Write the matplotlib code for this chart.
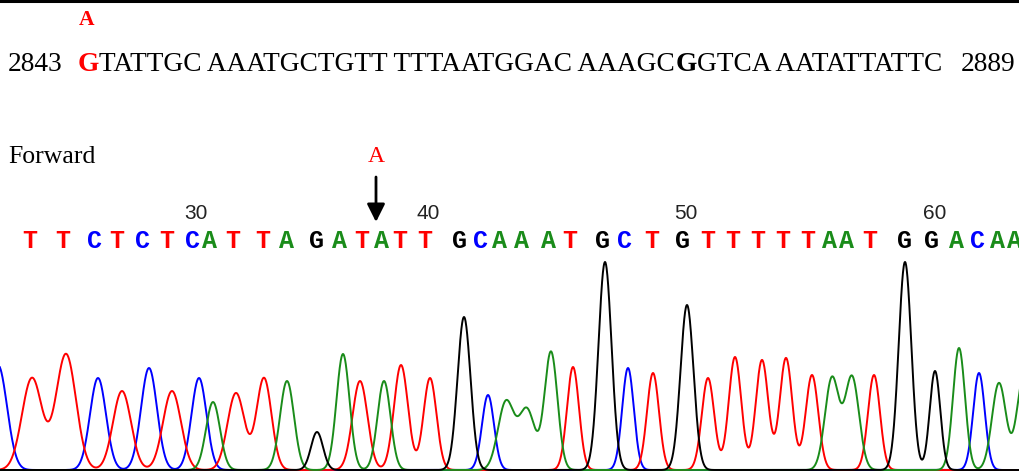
import numpy as np
import matplotlib
matplotlib.use("Agg")
import matplotlib.pyplot as plt

# reference sequence line
seq_start = "2843"
seq_mut = "G"
seq_part1 = "TATTGC AAATGCTGTT TTTAATGGAC AAAGC"
seq_bold = "G"
seq_part2 = "GTCA AATATTATTC"
seq_end = "2889"
mut_base = "A"

# base calls of the forward read (scan position, base)
call_pos = [30, 63, 95, 117, 143, 167, 193, 210, 233, 263, 287, 317, 340, 362,
            382, 400, 425, 460, 481, 500, 522, 549, 570, 603, 625, 652, 683,
            708, 733, 758, 783, 808, 830, 847, 870, 905, 932, 957, 978, 998, 1015]
call_base = "TTCTCTCATTAGATATTGCAAATGCTGTTTTTAATGGACAA"
first_base_no = 24
mut_scan = 376

# peaks of each trace: centre (scan), height, width
T_pos = [32, 66, 122, 172, 236, 264, 360, 401, 430, 573, 653, 708, 735, 762, 786, 812, 874]
T_h = [92, 116, 79, 79, 77, 92, 89, 105, 92, 103, 97, 92, 113, 110, 112, 95, 95]
T_w = [10, 10, 9, 9, 8.5, 7.5, 7.5, 7, 6.5, 6, 6, 6.2, 6.3, 6.3, 6.3, 6.3, 6]

A_pos = [213, 287, 343, 384, 506, 527, 551, 832, 852, 959, 999, 1024]
A_h = [68, 89, 116, 89, 68, 60, 118, 92, 93, 122, 87, 95]
A_w = [7, 7, 6.5, 6.5, 8, 8, 6.5, 7, 7, 6, 7, 7]

C_pos = [-2, 98, 149, 199, 488, 628, 979]
C_h = [105, 92, 102, 92, 75, 102, 97]
C_w = [9, 8, 8, 7.5, 6, 5.8, 5.8]

G_pos = [317, 464, 605, 687, 905, 935]
G_h = [38, 153, 208, 165, 208, 99]
G_w = [6, 6.5, 6.5, 6.5, 6.3, 5.3]

col = {"T": "#ff0000", "A": "#1a8c1a", "C": "#0000ff", "G": "#000000"}


def trace(x, pos, h, w):
    y = np.zeros_like(x)
    for p, a, s in zip(pos, h, w):
        y += a * np.exp(-(x - p) ** 2 / (2 * s ** 2))
    return y


def py(y):
    # pixel row (from top) -> axis units
    return 470 - y


fig = plt.figure(figsize=(10.2, 4.72), dpi=100)
ax = fig.add_axes([0, 0, 1, 1])
ax.set_xlim(0, 1020)
ax.set_ylim(-2, 470)
ax.axis("off")

x = np.linspace(-20, 1040, 4000)
for b, pos, h, w in [("C", C_pos, C_h, C_w), ("T", T_pos, T_h, T_w),
                     ("A", A_pos, A_h, A_w), ("G", G_pos, G_h, G_w)]:
    ax.plot(x, trace(x, pos, h, w), color=col[b], lw=1.4)

# top rule
ax.axhline(py(1), color="black", lw=2.2)

# reference sequence with chained pieces
serif = "Liberation Serif"
fs = 18.5
fl = 19.7
t = ax.text(8, py(64.5), seq_start, fontsize=fl, family=serif, va="center")
t = ax.annotate(seq_mut, xy=(1, 0), xycoords=t, xytext=(10.5, 0), textcoords="offset points",
                va="bottom", ha="left", fontsize=fl, family=serif, color="red", weight="bold")
g = t
t = ax.annotate(seq_part1, xy=(1, 0), xycoords=t, xytext=(0.3, 0), textcoords="offset points",
                va="bottom", ha="left", fontsize=fl, family=serif)
t = ax.annotate(seq_bold, xy=(1, 0), xycoords=t, xytext=(0.3, 0), textcoords="offset points",
                va="bottom", ha="left", fontsize=fl, family=serif, weight="bold")
t = ax.annotate(seq_part2, xy=(1, 0), xycoords=t, xytext=(0.3, 0), textcoords="offset points",
                va="bottom", ha="left", fontsize=fl, family=serif)
t = ax.annotate(seq_end, xy=(1, 0), xycoords=t, xytext=(13, 0), textcoords="offset points",
                va="bottom", ha="left", fontsize=fl, family=serif)
ax.annotate(mut_base, xy=(0.5, 1), xycoords=g, xytext=(-1, 16), textcoords="offset points",
            va="bottom", ha="center", fontsize=15.5, family=serif, color="red", weight="bold")

# forward read header
ax.text(8, py(157), "Forward", fontsize=fs, family=serif, va="center")
ax.text(mut_scan, py(157), mut_base, fontsize=17, family=serif, va="center",
        ha="center", color="red")
ax.annotate("", xy=(mut_scan, py(222)), xytext=(mut_scan, py(177)),
            arrowprops=dict(arrowstyle="-|>", lw=2, color="black",
                            mutation_scale=27, shrinkA=0, shrinkB=0))

# base calls and numbering
for i, (p, b) in enumerate(zip(call_pos, call_base)):
    ax.text(p, py(241), b, color=col[b], fontsize=18, family="Liberation Mono",
            weight="bold", ha="center", va="center")
    n = first_base_no + i
    if n % 10 == 0:
        ax.text(p + 3, py(213.5), str(n), color="#222222", fontsize=15,
                family="Liberation Sans", ha="center", va="center")

fig.savefig("out.png", dpi=100)
